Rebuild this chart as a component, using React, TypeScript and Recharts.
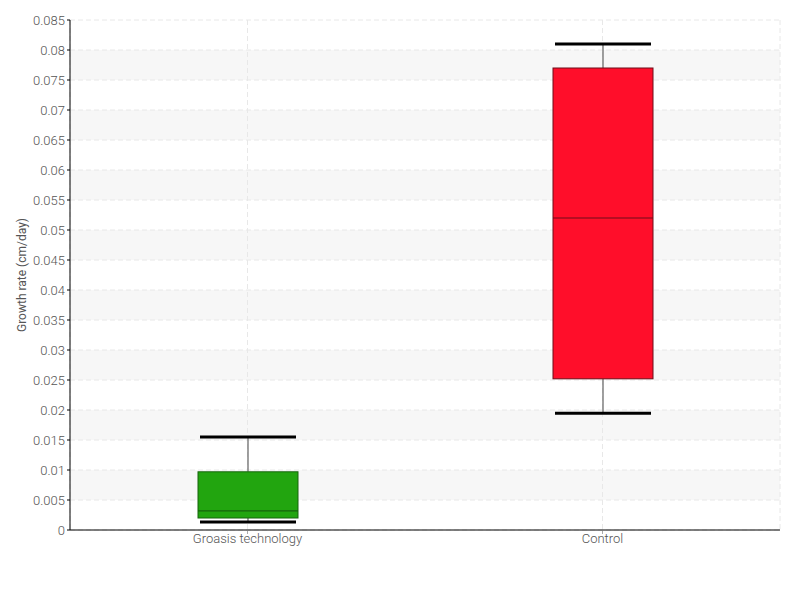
import { Bar, CartesianGrid, ComposedChart, XAxis, YAxis } from 'recharts'

const CATEGORIES = ['Groasis technology', 'Control']
const MIN = [0.00133, 0.01945]
const Q1 = [0.002, 0.0252]
const MEDIAN = [0.0032, 0.052]
const Q3 = [0.0097, 0.077]
const MAX = [0.0155, 0.081]

const Y_TICKS = [0, 0.005, 0.01, 0.015, 0.02, 0.025, 0.03, 0.035, 0.04, 0.045, 0.05, 0.055, 0.06, 0.065, 0.07, 0.075, 0.08, 0.085]
const MINOR_TICKS = [0.0025, 0.0075, 0.0125, 0.0175, 0.0225, 0.0275, 0.0325, 0.0375, 0.0425, 0.0475, 0.0525, 0.0575, 0.0625, 0.0675, 0.0725, 0.0775, 0.0825]

const FILLS = ['#22a50f', '#ff0e2a']
const EDGES = ['#16650c', '#6e0c18']

const DATA = CATEGORIES.map((name, i) => ({
  name,
  range: [MIN[i], MAX[i]],
  min: MIN[i],
  q1: Q1[i],
  median: MEDIAN[i],
  q3: Q3[i],
  max: MAX[i],
}))

function BoxShape(props: any) {
  const { x, y, width, height, payload, index } = props
  const top = Math.min(y, y + height)
  const bottom = Math.max(y, y + height)
  const { min, max, q1, q3, median } = payload
  const pix = (v: number) => bottom - ((v - min) / (max - min)) * (bottom - top)
  const cx = x + width / 2
  const capHalf = width / 2 - 2
  return (
    <g>
      <line x1={cx} x2={cx} y1={pix(max)} y2={pix(q3)} stroke="#808080" strokeWidth={1.5} />
      <line x1={cx} x2={cx} y1={pix(q1)} y2={pix(min)} stroke="#808080" strokeWidth={1.5} />
      <rect x={x} y={pix(q3)} width={width} height={pix(q1) - pix(q3)}
        fill={FILLS[index]} stroke={EDGES[index]} strokeWidth={1} />
      <line x1={x} x2={x + width} y1={pix(median)} y2={pix(median)} stroke={EDGES[index]} strokeWidth={1.2} />
      <line x1={cx - capHalf} x2={cx + capHalf} y1={pix(max)} y2={pix(max)} stroke="#000" strokeWidth={3} />
      <line x1={cx - capHalf} x2={cx + capHalf} y1={pix(min)} y2={pix(min)} stroke="#000" strokeWidth={3} />
    </g>
  )
}

export default function App() {
  return (
    <div style={{ position: 'absolute', left: 0, top: 0, width: 800, height: 600, background: '#fff', fontFamily: 'Roboto, sans-serif' }}>
      <ComposedChart width={800} height={600} data={DATA} margin={{ top: 20, right: 20, bottom: 50, left: 0 }}>
        <CartesianGrid stroke="#e8e8e8" strokeDasharray="5 3" horizontalFill={['#ffffff', '#f7f7f7']} />
        <XAxis dataKey="name" axisLine={{ stroke: '#000' }} tickLine={{ stroke: '#aaa', strokeDasharray: '3 2' }} tickSize={4} tickMargin={0}
          tick={{ fill: '#555', fontSize: 13, fontWeight: 300 }} height={20} />
        <YAxis yAxisId="minor" domain={[0, 0.085]} ticks={MINOR_TICKS} width={0} axisLine={false}
          tickLine={{ stroke: '#d00' }} tickSize={2} tickFormatter={() => ''} />
        <YAxis domain={[0, 0.085]} ticks={Y_TICKS} width={70} axisLine={{ stroke: '#000' }} tickLine={{ stroke: '#000' }} tickSize={3}
          tick={{ fill: '#555', fontSize: 13, fontWeight: 300 }} interval={0}
          label={{ value: 'Growth rate (cm/day)', angle: -90, position: 'insideLeft', offset: 22, fill: '#555', fontSize: 12, style: { textAnchor: 'middle' } }} />
        <Bar dataKey="range" barSize={100} shape={BoxShape} isAnimationActive={false} />
      </ComposedChart>
    </div>
  )
}
